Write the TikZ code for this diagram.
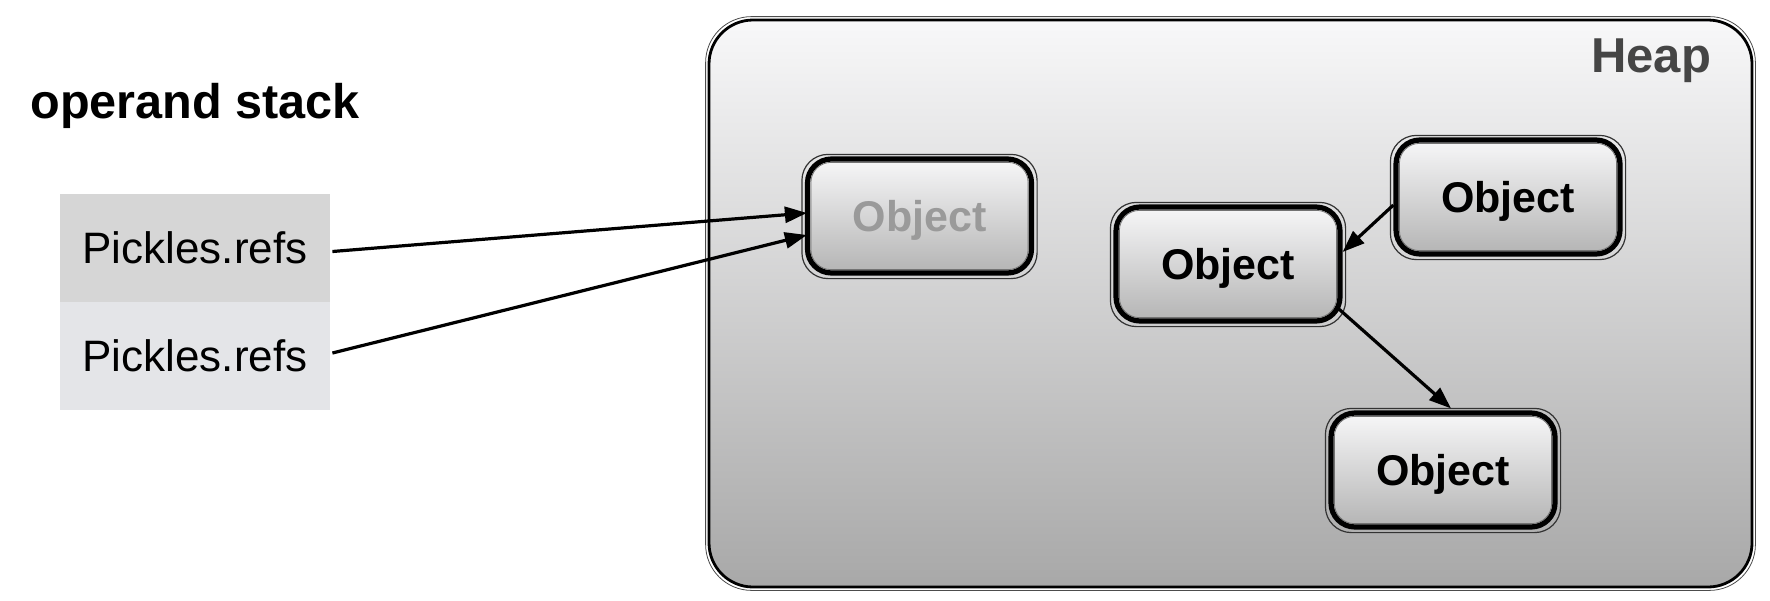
\documentclass[tikz,border=0pt]{standalone}
\usepackage{fontspec}
\setmainfont{Liberation Sans}
\usetikzlibrary{arrows.meta,calc}
\definecolor{cellA}{HTML}{D6D6D6}
\definecolor{cellB}{HTML}{E4E5E8}
\definecolor{heapTop}{HTML}{F8F8F9}
\definecolor{heapBot}{HTML}{A8A8A8}
\definecolor{objTop}{HTML}{F7F7F8}
\definecolor{objBot}{HTML}{B4B4B4}
\definecolor{heapText}{HTML}{454545}
\definecolor{ghostText}{HTML}{9A9A9A}
\tikzset{
  cell/.style={minimum width=135pt,minimum height=54pt,inner sep=0pt,font=\fontsize{22}{26}\selectfont},
  objbox/.style={draw=black,line width=2.6pt,rounded corners=12pt,minimum width=112pt,minimum height=57pt,
    top color=objTop,bottom color=objBot,font=\bfseries\fontsize{21.5}{25}\selectfont,inner sep=0pt,text depth=0pt},
  rough/.style={draw=black!80,line width=0.6pt,rounded corners=13pt},
  arr/.style={line width=1.6pt,-{Triangle[length=11pt,width=8pt]}},
}
\begin{document}
\begin{tikzpicture}[x=0.5pt,y=-0.5pt]
\useasboundingbox (0,0) rectangle (1770,600);
% heap container
\node[draw=black,line width=1.4pt,rounded corners=22pt,top color=heapTop,bottom color=heapBot,
      minimum width=521.5pt,minimum height=283.5pt,inner sep=0pt] (heap) at (1230.5,303.5) {};
\draw[draw=black!70,line width=0.4pt,rounded corners=23pt] ($(heap.north west)+(-2,-2)$) rectangle ($(heap.south east)+(2,2)$);
\node[anchor=north east,text=heapText,font=\bfseries\fontsize{24.5}{28}\selectfont,inner sep=0pt] (heaplbl) at ($(heap.north east)+(-42,20)$) {Heap};
% operand stack
\node[anchor=base west,font=\bfseries\fontsize{24.3}{28}\selectfont,inner sep=0pt] (title) at (30,118) {operand stack};
\node[cell,fill=cellA] (c1) at (195,247.5) {Pickles.refs};
\node[cell,fill=cellB] (c2) at (195,356) {Pickles.refs};
% objects
\node[objbox,text=ghostText] (o1) at (919.5,216) {Object};
\node[objbox] (o2) at (1228,264) {Object};
\node[objbox] (o3) at (1508,197) {Object};
\node[objbox] (o4) at (1443,470) {Object};
\foreach \n in {o1,o2,o3,o4}{
  \draw[rough] ($(\n.north west)+(-3,-2)$) rectangle ($(\n.south east)+(3,3)$);
  \draw[rough,draw=black!55,line width=0.4pt,rounded corners=10pt] ($(\n.north west)+(6,6)$) rectangle ($(\n.south east)+(-6,-6)$);
}
% connectors
\draw[arr] ($(c1.east)+(2,4)$) -- ($(o1.west)+(2,-3)$);
\draw[arr] ($(c2.east)+(2,-3)$) -- ($(o1.west)+(2,19)$);
\draw[arr] ($(o3.west)+(0,8)$) -- ($(o2.east)+(0,-12)$);
\draw[arr] ($(o2.east)+(-6,43)$) -- ($(o4.north)+(8,-2)$);
\end{tikzpicture}
\end{document}
